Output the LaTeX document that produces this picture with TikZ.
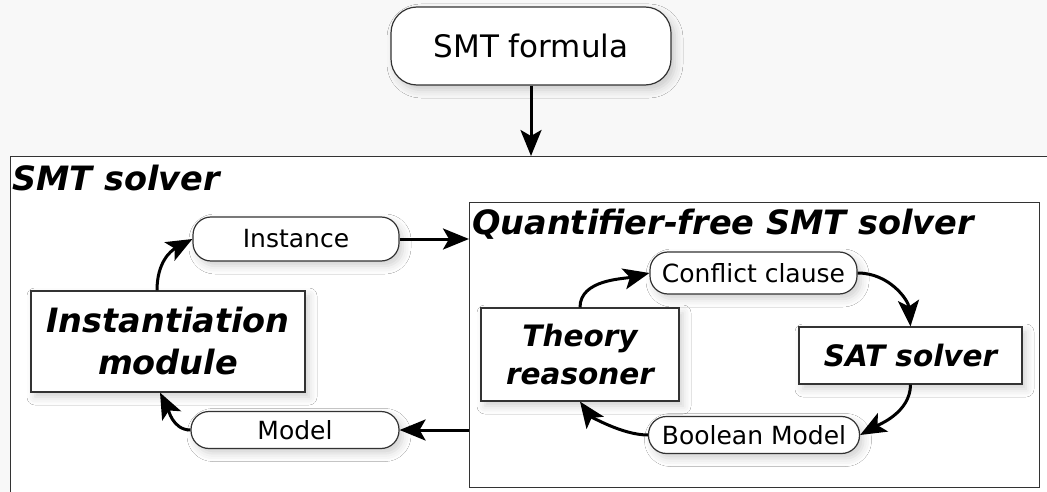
\documentclass[tikz,border=0pt]{standalone}
\usepackage{fontspec}
\setmainfont{DejaVu Sans}[
  BoldFont={DejaVu Sans Bold},
  ItalicFont={DejaVu Sans Oblique},
  BoldItalicFont={DejaVu Sans Bold Oblique}]
\usetikzlibrary{arrows.meta,shadows.blur,calc}

\definecolor{pagegrey}{HTML}{F8F8F8}
\definecolor{edge}{HTML}{333333}

\tikzset{
  softshadow/.style={blur shadow={shadow xshift=4pt,shadow yshift=-5pt,
      shadow blur radius=8pt,shadow opacity=18}},
  frame/.style={draw=edge,line width=1.4pt,fill=white,inner sep=0pt},
  pill/.style={draw=edge,line width=1.2pt,fill=white,inner sep=0pt,
      rounded corners=18pt,softshadow,
      font=\fontsize{25}{30}\selectfont},
  module/.style={draw=edge,line width=1.2pt,fill=white,inner sep=0pt,
      align=center,softshadow},
  title/.style={anchor=base west,inner sep=0pt,
      font=\fontsize{33.5}{40}\selectfont\bfseries\itshape},
  flow/.style={line width=3pt,
      -{Stealth[length=26pt,width=21pt,inset=6pt]}},
}

\begin{document}
\begin{tikzpicture}[x=1pt,y=-1pt]
  \useasboundingbox (0,0) rectangle (1047,492);
  \fill[pagegrey] (0,0) rectangle (1047,492);

  % outer solver frame and the quantifier-free sub-solver
  \node[frame,anchor=north west,minimum width=1070pt,minimum height=360pt]
    (smt) at (10,156) {};
  \node[frame,anchor=north west,minimum width=570pt,minimum height=285pt]
    (qf) at (469,202) {};

  \node[title] (smttitle) at (12,190) {SMT solver};
  \node[title] (qftitle) at (472,234) {Quantifier-free SMT solver};

  % input formula
  \node[pill,rounded corners=26pt,minimum width=280pt,minimum height=78pt,
        font=\fontsize{31}{36}\selectfont]
    (formula) at (531,46) {SMT formula};

  % instantiation loop
  \node[module,minimum width=274pt,minimum height=101pt,
        font=\fontsize{33.5}{42}\selectfont\bfseries\itshape]
    (inst) at (168,341.5) {Instantiation\\module};
  \node[pill,minimum width=206pt,minimum height=44pt]
    (instance) at (296,239) {Instance};
  \node[pill,minimum width=208pt,minimum height=37pt]
    (model) at (295,430) {Model};

  % inner SAT / theory loop
  \node[module,minimum width=198pt,minimum height=93pt,
        font=\fontsize{29.5}{37}\selectfont\bfseries\itshape]
    (theory) at (580,354.5) {Theory\\reasoner};
  \node[module,minimum width=223pt,minimum height=57pt,
        font=\fontsize{29.5}{36}\selectfont\bfseries\itshape]
    (sat) at (910.5,355.5) {SAT solver};
  \node[pill,minimum width=207pt,minimum height=42pt]
    (conflict) at (753.5,273) {Conflict clause};
  \node[pill,minimum width=211pt,minimum height=37pt]
    (boolmodel) at (754,435) {Boolean Model};

  % connectors
  \draw[flow] (formula.south) -- (formula.south |- smt.north);
  \draw[flow] (instance.east) -- (instance.east -| qf.west);
  \draw[flow] (qf.west |- model.east) -- (model.east);

  \coordinate (instout) at ($(inst.north)+(-11,0)$);
  \coordinate (instin) at ($(inst.south)+(-8,0)$);
  \draw[flow] (instout) .. controls +(0,-28) and +(-22,12) .. (instance.west);
  \draw[flow] (model.west) .. controls +(-18,0) and +(8,16) .. (instin);

  \draw[flow] (theory.north) .. controls +(0,-28) and +(-26,6) .. (conflict.west);
  \draw[flow] (conflict.east) .. controls +(32,0) and +(-2,-26) .. (sat.north);
  \draw[flow] (sat.south) .. controls +(0,28) and +(18,-10) .. (boolmodel.east);
  \draw[flow] (boolmodel.west) .. controls +(-26,0) and +(10,14) .. (theory.south);
\end{tikzpicture}
\end{document}
